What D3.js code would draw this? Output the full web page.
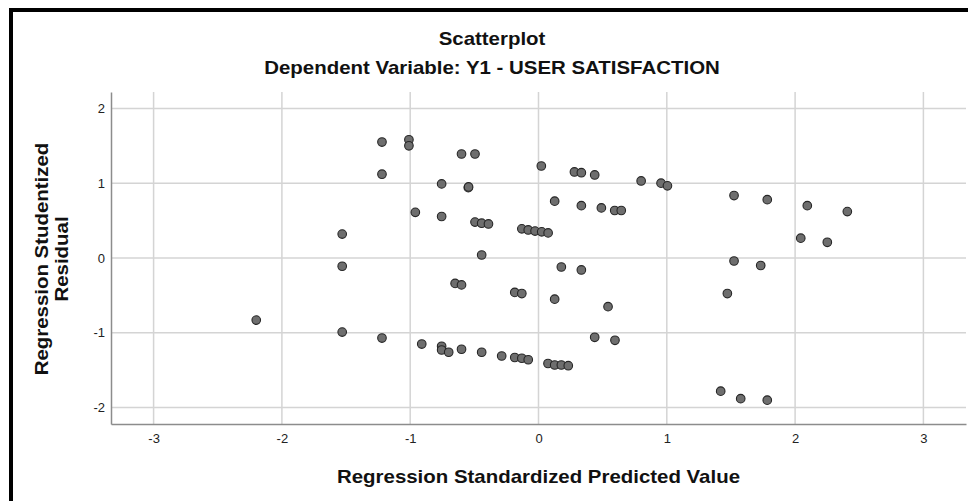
<!DOCTYPE html>
<html>
<head>
<meta charset="utf-8">
<script src="https://cdn.jsdelivr.net/npm/d3@7"></script>
<style>
  html, body { margin: 0; padding: 0; background: #fff; }
  svg { display: block; }
  text { font-family: "Liberation Sans", Arial, sans-serif; }
</style>
</head>
<body>
<svg id="chart" width="968" height="501"></svg>
<script>
const titleText = "Scatterplot";
const subtitleText = "Dependent Variable: Y1 - USER SATISFACTION";
const xTitle = "Regression Standardized Predicted Value";
const yTitleLines = ["Regression Studentized", "Residual"];
const xTicks = [-3, -2, -1, 0, 1, 2, 3];
const yTicks = [-2, -1, 0, 1, 2];

// Regression Standardized Predicted Value
const predicted = [
  -2.20, -1.53, -1.53, -1.53, -1.22, -1.22, -1.22, -1.01, -1.01, -0.96,
  -0.91, -0.755, -0.755, -0.755, -0.755, -0.70, -0.65, -0.60, -0.60, -0.60,
  -0.547, -0.545, -0.495, -0.495, -0.443, -0.443, -0.443, -0.39, -0.287, -0.185,
  -0.185, -0.13, -0.13, -0.13, -0.08, -0.08, -0.027, 0.022, 0.025, 0.075,
  0.074, 0.126, 0.126, 0.126, 0.178, 0.178, 0.232, 0.28, 0.334, 0.334,
  0.334, 0.438, 0.438, 0.49, 0.542, 0.594, 0.596, 0.645, 0.80, 0.955,
  1.005, 1.42, 1.472, 1.524, 1.524, 1.576, 1.732, 1.783, 1.783, 2.044,
  2.095, 2.251, 2.407
];
// Regression Studentized Residual
const residual = [
  -0.83, 0.32, -0.11, -0.99, 1.55, 1.12, -1.07, 1.58, 1.50, 0.61,
  -1.15, 0.99, 0.555, -1.18, -1.23, -1.26, -0.34, 1.39, -0.36, -1.22,
  0.94, 0.95, 1.39, 0.48, 0.465, 0.04, -1.26, 0.455, -1.31, -0.46,
  -1.33, 0.39, -0.475, -1.34, 0.375, -1.36, 0.36, 1.23, 0.35, 0.335,
  -1.41, 0.76, -0.55, -1.43, -0.12, -1.43, -1.44, 1.15, 1.14, 0.70,
  -0.16, 1.11, -1.06, 0.67, -0.65, 0.635, -1.10, 0.635, 1.03, 1.00,
  0.965, -1.78, -0.475, 0.835, -0.04, -1.88, -0.10, 0.78, -1.90, 0.265,
  0.70, 0.21, 0.62
];

const svg = d3.select("#chart");
const W = 968, H = 501;
const plot = { left: 111, right: 966, top: 92, bottom: 424 };
const stretch = 1.135; // horizontal stretch of the reference's text

// outer frame (left and top black border)
svg.append("rect").attr("x", 9).attr("y", 8).attr("width", 4).attr("height", H - 8).attr("fill", "#000");
svg.append("rect").attr("x", 9).attr("y", 8).attr("width", W - 9).attr("height", 4).attr("fill", "#000");

const x = d3.scaleLinear().domain([-3.332, 3.332]).range([plot.left, plot.right]);
const y = d3.scaleLinear().domain([-2.219, 2.219]).range([plot.bottom, plot.top]);

// gridlines
const grid = svg.append("g");
grid.selectAll("line.vx").data(xTicks).join("line")
  .attr("class", "vx")
  .attr("x1", d => x(d)).attr("x2", d => x(d))
  .attr("y1", plot.top).attr("y2", plot.bottom)
  .attr("stroke", "#d4d4d4").attr("stroke-width", 1.5);
grid.selectAll("line.hy").data(yTicks).join("line")
  .attr("class", "hy")
  .attr("x1", plot.left).attr("x2", plot.right)
  .attr("y1", d => y(d)).attr("y2", d => y(d))
  .attr("stroke", "#d4d4d4").attr("stroke-width", 1.5);

// axes (plain hyphen-minus in labels, as in the reference)
const fmt = d => String(d);
const xAxis = d3.axisBottom(x).tickValues(xTicks).tickSize(0).tickPadding(10).tickFormat(fmt);
const yAxis = d3.axisLeft(y).tickValues(yTicks).tickSize(0).tickPadding(6).tickFormat(fmt);
const gx = svg.append("g").attr("transform", `translate(0,${plot.bottom})`).call(xAxis);
const gy = svg.append("g").attr("transform", `translate(${plot.left},0)`).call(yAxis);
[gx, gy].forEach(g => {
  g.select(".domain").attr("stroke", "#8c8c8c").attr("stroke-width", 1.5);
  g.selectAll("text").attr("font-size", 13).attr("fill", "#222")
    .attr("font-family", "'Liberation Sans', Arial, sans-serif");
});

// points
svg.append("g").selectAll("circle").data(predicted.map((p, i) => [p, residual[i]])).join("circle")
  .attr("cx", d => x(d[0])).attr("cy", d => y(d[1])).attr("r", 4.3)
  .attr("fill", "#6e6e6e").attr("stroke", "#262626").attr("stroke-width", 1.1);

// titles (horizontally stretched to match the reference)
function stretchedText(tx, ty, txt, size) {
  return svg.append("text")
    .attr("transform", `translate(${tx},${ty}) scale(${stretch},1)`)
    .attr("text-anchor", "middle").attr("font-size", size).attr("font-weight", "bold")
    .attr("fill", "#111").text(txt);
}
stretchedText(492, 45, titleText, 18);
stretchedText(492, 74, subtitleText, 18);
stretchedText((plot.left + plot.right) / 2, 483, xTitle, 18);

const yt = svg.append("text")
  .attr("transform", `translate(48,${(plot.top + plot.bottom) / 2 + 1}) rotate(-90) scale(${stretch},1)`)
  .attr("text-anchor", "middle").attr("font-size", 18).attr("font-weight", "bold").attr("fill", "#111");
yTitleLines.forEach((t, i) => {
  yt.append("tspan").attr("x", 0).attr("y", i * 20).text(t);
});
</script>
</body>
</html>
